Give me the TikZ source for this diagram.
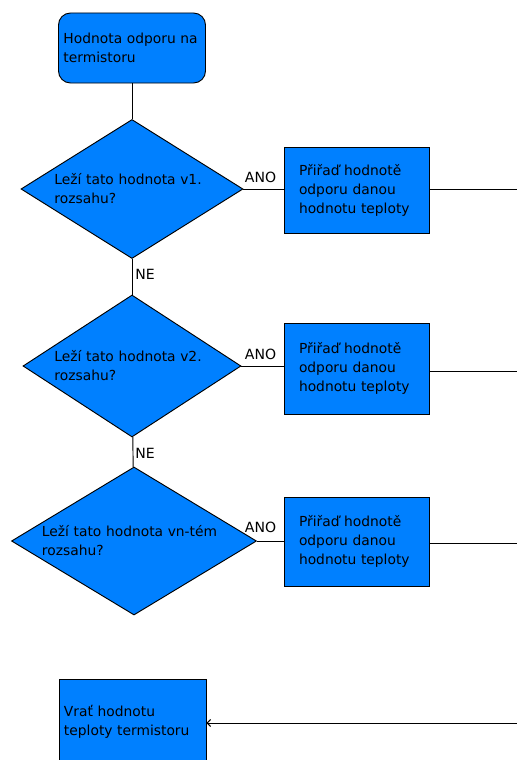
\documentclass[tikz,border=0pt]{standalone}
\usepackage{fontspec}
\setmainfont{DejaVu Sans}
\usetikzlibrary{arrows.meta}
\usetikzlibrary{positioning,shapes.geometric}
\definecolor{flowblue}{RGB}{0,128,255}

\begin{document}
\begin{tikzpicture}[x=0.03cm,y=-0.03cm,
    font=\fontsize{11.8}{16.2}\selectfont,
    line width=0.8pt,
    startbox/.style={draw,fill=flowblue,rounded corners=0.36cm,align=left,
      text width=4.11cm,inner xsep=0.15cm,minimum width=4.41cm,minimum height=2.1cm},
    askbox/.style={draw,fill=flowblue,diamond,inner sep=0pt,align=left},
    setbox/.style={draw,fill=flowblue,align=left,text width=3.45cm,
      inner xsep=0.45cm,minimum width=4.35cm},
    yesno/.style={inner sep=0pt,font=\fontsize{12}{14}\selectfont}]
    % page frame
    \clip (0,0) rectangle (517,760);
    % start
    \node[startbox] (start) at (132,48) {Hodnota odporu na\\termistoru};
    % range checks
    \node[askbox,text width=4.65cm,shape aspect=1.6,minimum width=6.66cm,
          minimum height=4.17cm] (ask1) at (132,189)
          {Leží tato hodnota v1.\\rozsahu?};
    \node[askbox,text width=4.65cm,shape aspect=1.54,minimum width=6.54cm,
          minimum height=4.26cm] (ask2) at (132,366)
          {Leží tato hodnota v2.\\rozsahu?};
    \node[askbox,text width=5.52cm,shape aspect=1.66,minimum width=7.35cm,
          minimum height=4.44cm] (ask3) at (134,541)
          {Leží tato hodnota vn-tém\\rozsahu?};
    % assignments
    \node[setbox,minimum height=2.58cm] (set1) at (356.5,190)
          {Přiřaď hodnotě\\odporu danou\\hodnotu teploty};
    \node[setbox,minimum height=2.73cm] (set2) at (356.5,368.5)
          {Přiřaď hodnotě\\odporu danou\\hodnotu teploty};
    \node[setbox,minimum height=2.67cm] (set3) at (356.5,541.5)
          {Přiřaď hodnotě\\odporu danou\\hodnotu teploty};
    % result
    \node[startbox,rounded corners=0pt,minimum height=2.58cm] (ret) at (132.5,722)
          {Vrať hodnotu\\teploty termistoru};
    \coordinate (merge) at (545,723);
    % flow
    \draw (start) -- (ask1);
    \draw (ask1) -- (ask2);
    \draw (ask2) -- (ask3);
    \draw (ask1.east) -- (ask1.east -| set1.west);
    \draw (ask2.east) -- (ask2.east -| set2.west);
    \draw (ask3.east) -- (ask3.east -| set3.west);
    \draw (set1.east |- 0,189) -| (merge);
    \draw (set2.east |- 0,371) -| (merge);
    \draw (set3.east |- 0,543) -| (merge);
    \draw[-{Straight Barb[length=3pt,width=6pt]}] (merge) -- (ret.east |- merge);
    % branch labels
    \node[yesno] (yes1) at (260.5,177) {ANO};
    \node[yesno] (yes2) at (260.5,354) {ANO};
    \node[yesno] (yes3) at (260.5,527) {ANO};
    \node[yesno] (no1) at (145,274) {NE};
    \node[yesno] (no2) at (145,453) {NE};
  \end{tikzpicture}
\end{document}
